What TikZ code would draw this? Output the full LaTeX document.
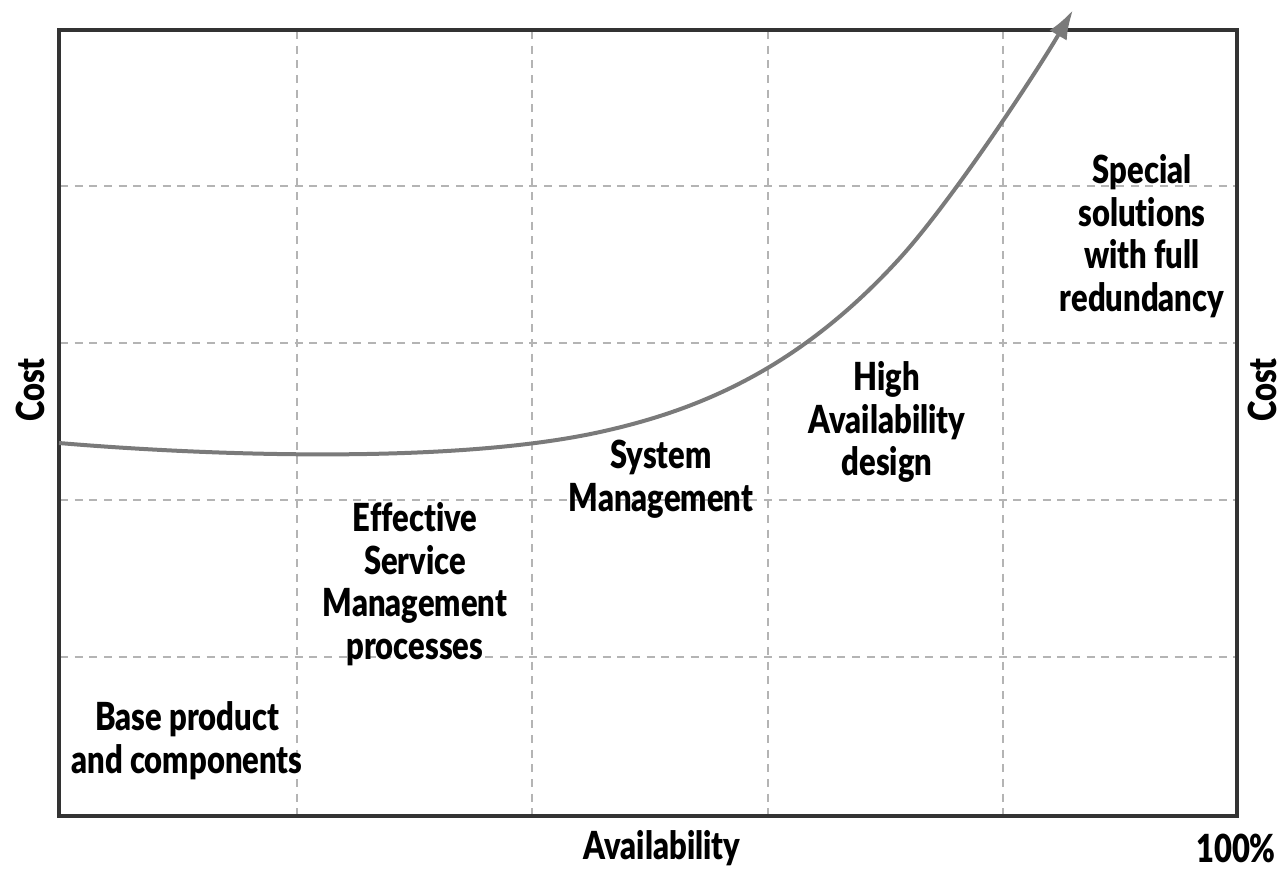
\documentclass[tikz,border=0pt]{standalone}
\usepackage{fontspec}
\setmainfont{Lato}[BoldFont={Lato Black}, FakeStretch=0.8, RawFeature={-liga}]
\usetikzlibrary{arrows.meta}
\definecolor{framec}{HTML}{333333}
\definecolor{gridc}{HTML}{B4B4B4}
\definecolor{curvec}{HTML}{7A7A7A}
\tikzset{
  framebox/.style={draw=framec, line width=3.4pt},
  gridline/.style={draw=gridc, line width=2.2pt, dash pattern=on 6pt off 5pt},
  costcurve/.style={draw=curvec, line width=3pt, -{Latex[length=22pt,width=15pt]}},
  lbl/.style={align=center, inner sep=0pt, font=\fontsize{29}{32}\selectfont\bfseries, text=black},
}
\begin{document}
\begin{tikzpicture}[x=0.75pt, y=-0.75pt]
\useasboundingbox (0,0) rectangle (1281,871);
% grid
\foreach \gx in {297,532,768,1003} \draw[gridline] (\gx,31) -- (\gx,815);
\foreach \gy in {186,343,500,657} \draw[gridline] (60,\gy) -- (1236,\gy);
% frame
\draw[framebox] (59,30) rectangle (1237,816);
% curve
\coordinate (cstart) at (59,443);
\coordinate (cmid) at (600,432);
\coordinate (cmid2) at (900,258);
\coordinate (cend) at (1073,10);
\draw[costcurve] (cstart) .. controls (200,455) and (450,465) .. (cmid)
  .. controls (700,410) and (800,368) .. (cmid2)
  .. controls (950,203) and (1033,78) .. (cend);
% labels
\node[lbl] (base) at (187,741) {Base product\\and components};
\node[lbl] (esm) at (415,584) {Effective\\Service\\Management\\processes};
\node[lbl] (sys) at (661,479) {System\\Management};
\node[lbl] (ha) at (887,422) {High\\Availability\\design};
\node[lbl] (spec) at (1142,236) {Special\\solutions\\with full\\redundancy};
\node[lbl, rotate=90] (costl) at (30,390) {Cost};
\node[lbl, rotate=90] (costr) at (1262,390) {Cost};
\node[lbl] (avail) at (662,848) {Availability};
\node[lbl] (pct) at (1236,848) {100\%};
\end{tikzpicture}
\end{document}
